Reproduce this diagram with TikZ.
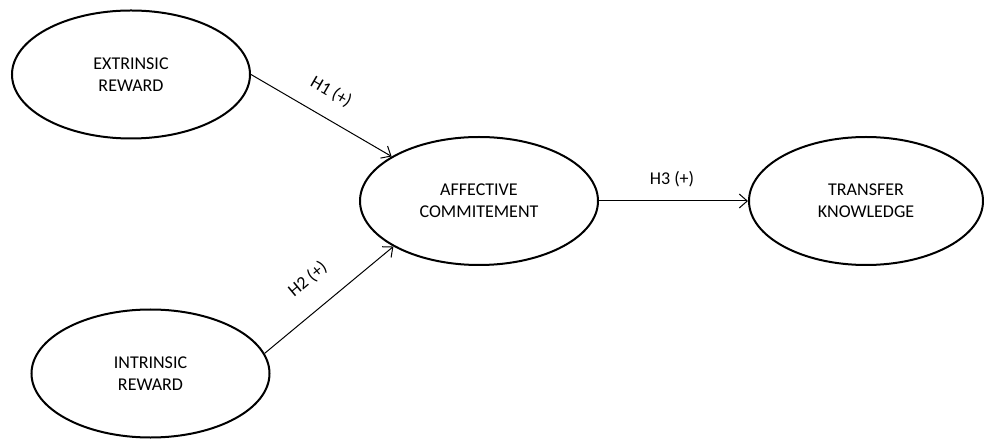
\documentclass[tikz,border=0pt]{standalone}
\usepackage{fontspec}
\setmainfont{Carlito}
\usepackage{tikz}
\usetikzlibrary{shapes.geometric,arrows.meta,positioning}
\tikzstyle{construct}=[draw,ellipse,line width=2pt,minimum width=238pt,minimum height=128pt,inner sep=0pt,align=center,font=\fontsize{18}{22}\selectfont]
\tikzstyle{path}=[line width=1pt,-{Straight Barb[length=8pt,width=14pt,line width=1pt]}]
\tikzstyle{hyp}=[inner sep=0pt,sloped,font=\fontsize{18}{22}\selectfont]

\begin{document}
\begin{tikzpicture}[x=1pt,y=1pt]
\useasboundingbox (0,0) rectangle (984,439);
\node [construct] (er) at (131,364.5) {EXTRINSIC\\REWARD};
\node [construct] (ir) at (150.5,65.5) {INTRINSIC\\REWARD};
\node [construct] (ac) at (479,238) {AFFECTIVE\\COMMITEMENT};
\node [construct, minimum width=234pt] (tk) at (866,238) {TRANSFER\\KNOWLEDGE};

\draw [path] (er.east) -- node [hyp, pos=.48, above=17pt] {H1 (+)} (ac.153);
\draw [path] (ir.10) -- node [hyp, pos=.48, above=21pt] {H2 (+)} (ac.208);
\draw [path] (ac.east) -- node [hyp, pos=.49, above=14pt] {H3 (+)} (tk.west);
\end{tikzpicture}
\end{document}
